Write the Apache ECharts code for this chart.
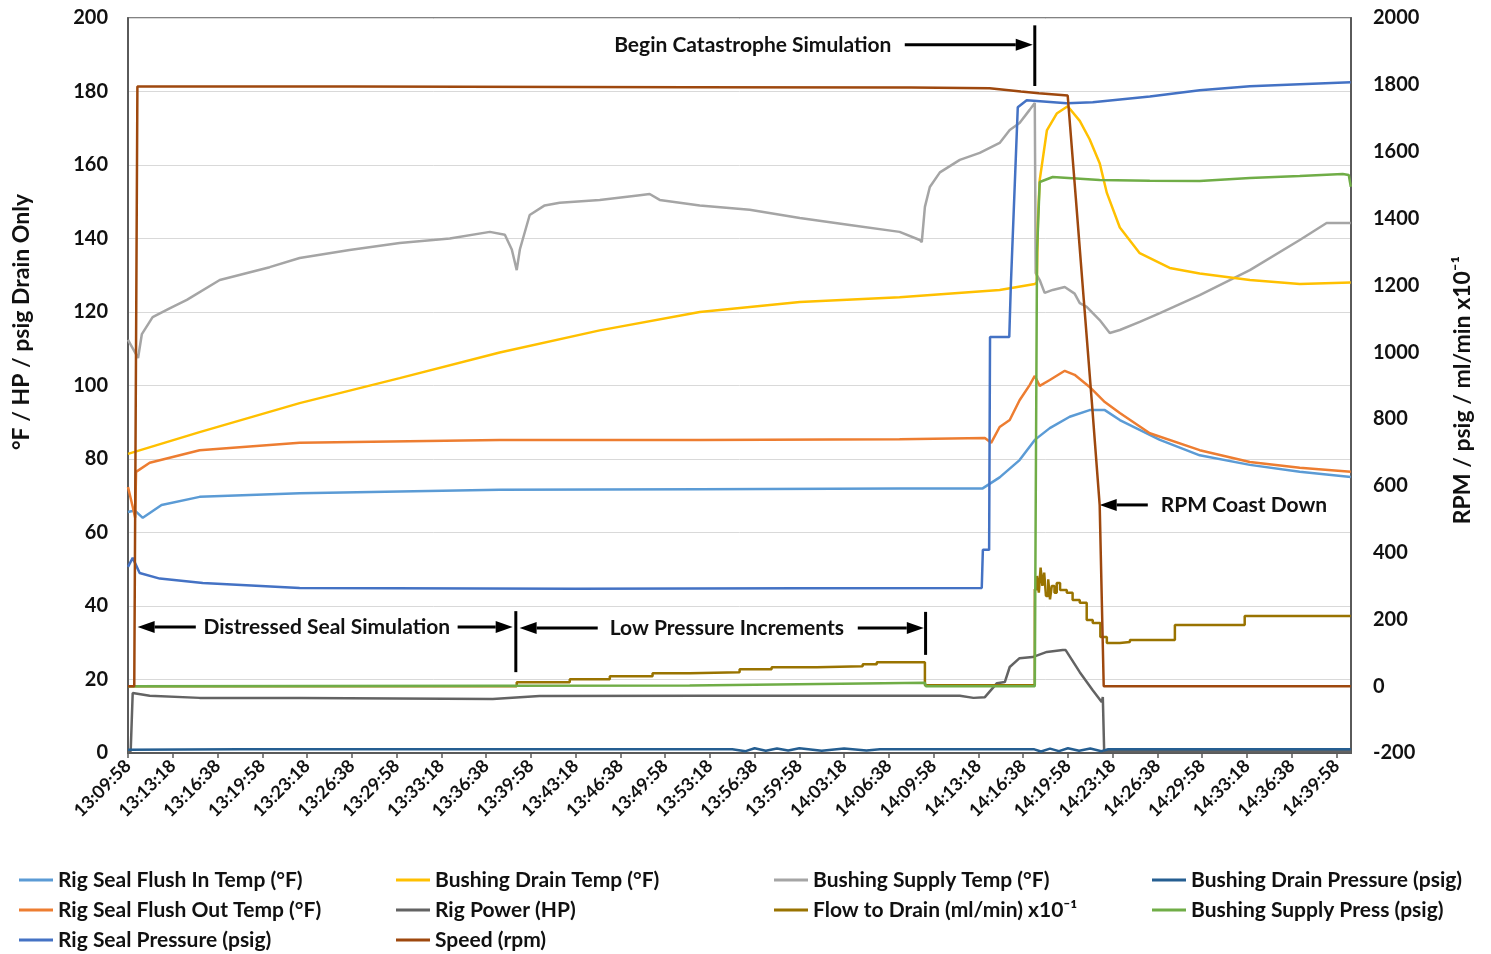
<!DOCTYPE html>
<html>
<head>
<meta charset="utf-8">
<title>Seal Test</title>
<script src="https://cdn.jsdelivr.net/npm/echarts@6/dist/echarts.min.js"></script>
<style>
html, body { margin: 0; padding: 0; background: #fff; }
#mychart { width: 1491px; height: 954px; }
</style>
</head>
<body>
<div id="mychart"></div>
<script>
// time in seconds after 13:09:58
var startSec = 13 * 3600 + 9 * 60 + 58;
var xMax = 5465;

// left axis (°F / HP / psig drain)
var flushIn = [[0,65.6],[30,66],[66,64],[150,67.5],[320,69.7],[767,70.7],[1661,71.6],[2555,71.8],[3448,72],[3819,72],[3895,75],[3984,79.7],[4052,85.2],[4119,88.4],[4208,91.5],[4297,93.3],[4365,93.3],[4432,90.6],[4611,85.2],[4789,81],[5013,78.4],[5236,76.5],[5464,75.1]];
var flushOut = [[0,72.4],[21,67],[32,64],[36,76.5],[97,79],[320,82.4],[767,84.4],[1661,85.2],[2555,85.2],[3448,85.4],[3829,85.7],[3857,84.4],[3895,88.7],[3940,90.6],[3984,96],[4029,100.1],[4052,102.6],[4074,99.9],[4119,101.5],[4186,104],[4230,102.9],[4297,99.6],[4365,95.5],[4432,92.5],[4566,87],[4789,82.4],[5013,79.2],[5236,77.6],[5464,76.5]];
var drainTemp = [[0,81.4],[320,87.3],[767,95.2],[1214,102],[1661,109],[2108,115],[2555,120],[3002,122.7],[3448,124],[3895,126],[4052,127.6],[4061,128],[4066,145],[4074,155.9],[4106,169.4],[4150,174],[4199,176],[4253,172],[4297,167],[4342,160.5],[4374,152.4],[4432,143],[4521,136],[4655,132],[4789,130.5],[5013,128.7],[5236,127.6],[5464,128]];
var supplyTemp = [[0,112.4],[45,107.5],[62,114],[110,118.6],[186,121],[263,123.3],[410,128.7],[633,132.2],[767,134.7],[990,136.9],[1214,138.8],[1438,140],[1617,141.8],[1684,141],[1715,137],[1737,131.4],[1751,137],[1795,146.4],[1862,149],[1929,149.7],[2108,150.5],[2287,151.8],[2331,152.1],[2376,150.5],[2555,149],[2778,147.8],[3002,145.6],[3225,143.7],[3448,141.8],[3538,139.6],[3547,139],[3561,148.6],[3583,154],[3628,158],[3717,161.4],[3806,163.3],[3895,166],[3940,169.5],[3984,171.4],[4029,175],[4052,176.9],[4056,130.6],[4074,128.7],[4096,125.2],[4132,126],[4186,126.8],[4230,125],[4253,122.4],[4284,121.4],[4342,117.8],[4387,114.3],[4432,115.1],[4521,117.3],[4611,119.7],[4789,124.6],[5013,131.4],[5236,139.6],[5356,144.2],[5464,144.2]];
var rigPower = [[0,0.5],[12,0.5],[21,16.3],[97,15.6],[320,15],[767,15],[1630,14.7],[1839,15.5],[2555,15.6],[3717,15.6],[3778,15],[3829,15.2],[3883,19],[3918,19.3],[3940,23.4],[3984,25.8],[4042,26.1],[4106,27.5],[4177,28],[4190,28],[4253,22],[4311,17.1],[4351,13.9],[4356,15.2],[4362,0.5],[5464,0.5]];
var drainPressure = [[0,0.9],[500,1],[1500,1],[2700,1],[2760,0.5],[2800,1.3],[2850,0.6],[2900,1.2],[2950,0.7],[3000,1.3],[3100,0.6],[3200,1.2],[3300,0.7],[3360,1],[4050,1],[4080,0.4],[4120,1.2],[4160,0.5],[4200,1.3],[4250,0.6],[4300,1.2],[4350,0.5],[4380,1],[5464,1]];

// right axis (RPM / psig / ml/min x10-1)
var rigSealPressure = [[0,357],[21,384],[52,339],[142,322],[334,309],[767,294],[2000,292],[3000,293],[3815,294],[3820,408],[3848,408],[3852,1045],[3938,1045],[3945,1200],[3976,1733],[4016,1754],[4195,1745],[4311,1748],[4566,1765],[4789,1784],[5013,1796],[5236,1802],[5464,1808]];
var supplyPress = [[0,0],[2510,2],[2515,7],[3283,8],[3290,10],[3561,10],[3565,0],[4052,0],[4062,1300],[4074,1509],[4132,1524],[4342,1515],[4566,1513],[4789,1512],[5013,1521],[5236,1527],[5428,1533],[5455,1530],[5464,1495]];
var speed = [[0,0],[28,0],[42,1795],[1000,1795],[2500,1793],[3500,1792],[3850,1790],[3990,1780],[4070,1775],[4199,1768],[4235,1464],[4271,1156],[4307,850],[4342,542],[4360,0],[5464,0]];
var flowToDrain = [[0,0],[1737,12],[1974,21],[2153,30],[2344,39],[2510,42],[2733,51],[2876,57],[3078,60],[3283,66],[3346,72],[3561,3],[4052,290],[4062,330],[4070,280],[4078,355],[4086,300],[4094,340],[4102,270],[4112,320],[4120,260],[4128,300],[4140,280],[4150,309],[4165,288],[4195,280],[4221,258],[4253,250],[4284,198],[4311,189],[4345,147],[4374,129],[4432,132],[4477,138],[4678,183],[4990,210],[5464,210]];

// annotations: [time, left axis value]
var catastropheText = [2792, 192.7];
var catastropheArrow = [3471, 4043, 192.7];
var catastropheBar = [4052, 181.5, 198];
var distressedText = [888, 34.3];
var distressedArrows = [[303, 43, 34.3], [1473, 1719, 34.3]];
var distressedBar = [1733, 22, 38.6];
var lowPressText = [2676, 34];
var lowPressArrows = [[2099, 1750, 34], [3261, 3556, 34]];
var lowPressBar = [3564, 26.7, 38.4];
var coastText = [4615, 67.5];
var coastArrow = [4557, 4342, 67.5];

var FONT = 'Lato';

function pad(n) {
    return n < 10 ? '0' + n : '' + n;
}
function fmtTime(sec) {
    var s = startSec + sec;
    return Math.floor(s / 3600) + ':' + pad(Math.floor(s % 3600 / 60)) + ':' + pad(s % 60);
}

function makeLine(name, data, color, axis, step) {
    return {
        name: name,
        type: 'line',
        data: data,
        yAxisIndex: axis,
        color: color,
        symbol: 'none',
        step: step || false,
        lineStyle: { width: 2.5, color: color },
        animation: false
    };
}

var myChart = echarts.init(document.getElementById('mychart'));

var legendCommon = {
    orient: 'vertical',
    icon: 'rect',
    itemWidth: 34,
    itemHeight: 3,
    itemGap: 8,
    padding: 0,
    textStyle: { fontFamily: FONT, fontWeight: 'bold', fontSize: 21, lineHeight: 22, color: '#111' }
};
function legendAt(left, names) {
    return Object.assign({ left: left, top: 869, data: names }, legendCommon);
}

myChart.setOption({
    backgroundColor: '#fff',
    grid: {
        left: 128,
        right: 140,
        top: 18,
        bottom: 201,
        show: true,
        borderColor: '#5a5a5a',
        borderWidth: 1.5
    },
    legend: [
        legendAt(19, ['Rig Seal Flush In Temp (°F)', 'Rig Seal Flush Out Temp (°F)', 'Rig Seal Pressure (psig)']),
        legendAt(396, ['Bushing Drain Temp (°F)', 'Rig Power (HP)', 'Speed (rpm)']),
        legendAt(774, ['Bushing Supply Temp (°F)', 'Flow to Drain (ml/min) x10⁻¹']),
        legendAt(1152, ['Bushing Drain Pressure (psig)', 'Bushing Supply Press (psig)'])
    ],
    xAxis: {
        type: 'value',
        min: 0,
        max: xMax,
        interval: 200,
        axisLine: { lineStyle: { color: '#5a5a5a', width: 2 } },
        axisTick: { show: true, length: 5, lineStyle: { color: '#5a5a5a', width: 1.5 } },
        splitLine: { show: false },
        axisLabel: {
            rotate: 45,
            margin: 10,
            showMaxLabel: false,
            fontFamily: FONT,
            fontWeight: 'bold',
            fontSize: 18,
            color: '#111',
            formatter: function (v) { return fmtTime(v); }
        }
    },
    yAxis: [
        {
            type: 'value',
            min: 0,
            max: 200,
            interval: 20,
            axisLine: { show: true, lineStyle: { color: '#5a5a5a', width: 2 } },
            axisTick: { show: false },
            splitLine: { lineStyle: { color: '#d9d9d9', width: 1 } },
            axisLabel: { margin: 20, fontFamily: FONT, fontWeight: 'bold', fontSize: 20, color: '#111' }
        },
        {
            type: 'value',
            min: -200,
            max: 2000,
            interval: 200,
            axisLine: { show: true, lineStyle: { color: '#5a5a5a', width: 2 } },
            axisTick: { show: false },
            splitLine: { show: false },
            axisLabel: {
                margin: 22, fontFamily: FONT, fontWeight: 'bold', fontSize: 20, color: '#111',
                formatter: function (v) { return '' + v; }
            }
        }
    ],
    series: [
        makeLine('Bushing Supply Temp (°F)', supplyTemp, '#a5a5a5', 0),
        makeLine('Bushing Drain Temp (°F)', drainTemp, '#ffc000', 0),
        makeLine('Rig Seal Flush In Temp (°F)', flushIn, '#5b9bd5', 0),
        makeLine('Rig Seal Flush Out Temp (°F)', flushOut, '#ed7d31', 0),
        makeLine('Rig Power (HP)', rigPower, '#636363', 0),
        makeLine('Flow to Drain (ml/min) x10⁻¹', flowToDrain, '#997300', 1, 'end'),
        makeLine('Bushing Drain Pressure (psig)', drainPressure, '#255e91', 0),
        makeLine('Rig Seal Pressure (psig)', rigSealPressure, '#4472c4', 1),
        makeLine('Bushing Supply Press (psig)', supplyPress, '#70ad47', 1),
        makeLine('Speed (rpm)', speed, '#9e480e', 1)
    ]
});

//注释 (arrows, bars, labels)
function px(t, v) {
    return myChart.convertToPixel({ xAxisIndex: 0, yAxisIndex: 0 }, [t, v]);
}
function arrow(a) {
    var p1 = px(a[0], a[2]);
    var p2 = px(a[1], a[2]);
    var dir = p2[0] > p1[0] ? 1 : -1;
    var head = 17;
    return [
        { type: 'line', shape: { x1: p1[0], y1: p1[1], x2: p2[0] - dir * head, y2: p2[1] }, style: { stroke: '#000', lineWidth: 3 } },
        { type: 'polygon', shape: { points: [[p2[0], p2[1]], [p2[0] - dir * head, p2[1] - 6], [p2[0] - dir * head, p2[1] + 6]] }, style: { fill: '#000' } }
    ];
}
function bar(b) {
    var p1 = px(b[0], b[1]);
    var p2 = px(b[0], b[2]);
    return { type: 'line', shape: { x1: p1[0], y1: p1[1], x2: p2[0], y2: p2[1] }, style: { stroke: '#000', lineWidth: 3 } };
}
function label(pos, txt, align) {
    var p = px(pos[0], pos[1]);
    return {
        type: 'text',
        style: {
            text: txt, x: p[0], y: p[1],
            fill: '#111', font: 'bold 21px ' + FONT,
            textAlign: align || 'center', textVerticalAlign: 'middle'
        }
    };
}

var graphics = [];
graphics.push(label(catastropheText, 'Begin Catastrophe Simulation'));
graphics = graphics.concat(arrow(catastropheArrow));
graphics.push(bar(catastropheBar));
graphics.push(label(distressedText, 'Distressed Seal Simulation'));
graphics = graphics.concat(arrow(distressedArrows[0]), arrow(distressedArrows[1]));
graphics.push(bar(distressedBar));
graphics.push(label(lowPressText, 'Low Pressure Increments'));
graphics = graphics.concat(arrow(lowPressArrows[0]), arrow(lowPressArrows[1]));
graphics.push(bar(lowPressBar));
graphics.push(label(coastText, 'RPM Coast Down', 'left'));
graphics = graphics.concat(arrow(coastArrow));

// axis titles
graphics.push({
    type: 'text', x: 22, y: 322, rotation: Math.PI / 2,
    style: { text: '°F / HP / psig Drain Only', fill: '#111', font: 'bold 23px ' + FONT, textAlign: 'center', textVerticalAlign: 'middle' }
});
graphics.push({
    type: 'text', x: 1463, y: 390, rotation: Math.PI / 2,
    style: { text: 'RPM / psig / ml/min x10⁻¹', fill: '#111', font: 'bold 23px ' + FONT, textAlign: 'center', textVerticalAlign: 'middle' }
});

myChart.setOption({ graphic: graphics });
</script>
</body>
</html>
